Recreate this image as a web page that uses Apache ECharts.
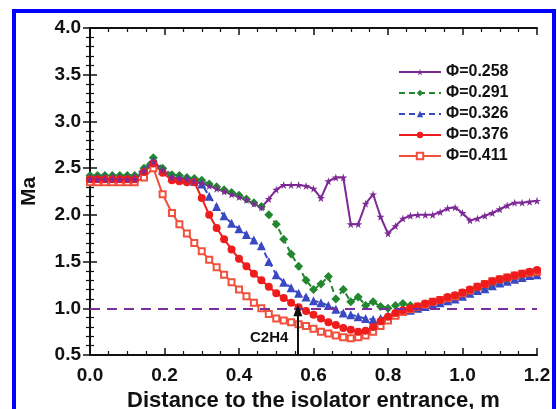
<!DOCTYPE html>
<html>
<head>
<meta charset="utf-8">
<script src="https://cdn.jsdelivr.net/npm/echarts@6/dist/echarts.min.js"></script>
<style>
html, body { margin: 0; padding: 0; background: #fff; }
#chart { width: 557px; height: 409px; }
</style>
</head>
<body>
<div id="chart"></div>
<script>
//横坐标：距隔离段入口距离 (m)
const dist = [0, 0.02, 0.04, 0.06, 0.08, 0.10, 0.12, 0.145, 0.17, 0.195,
    0.22, 0.24, 0.26, 0.28, 0.30, 0.32, 0.34, 0.36, 0.38, 0.40,
    0.42, 0.44, 0.46, 0.48, 0.50, 0.52, 0.54, 0.56, 0.58, 0.60,
    0.62, 0.64, 0.66, 0.68, 0.70, 0.72, 0.74, 0.76, 0.78, 0.80,
    0.82, 0.84, 0.86, 0.88, 0.90, 0.92, 0.94, 0.96, 0.98, 1.00,
    1.02, 1.04, 1.06, 1.08, 1.10, 1.12, 1.14, 1.16, 1.18, 1.20];

//各当量比下的马赫数
const phi258 = [2.38, 2.38, 2.38, 2.38, 2.38, 2.38, 2.38, 2.47, 2.57, 2.48,
    2.40, 2.39, 2.38, 2.36, 2.34, 2.31, 2.28, 2.25, 2.22, 2.19,
    2.16, 2.12, 2.08, 2.17, 2.27, 2.32, 2.32, 2.32, 2.31, 2.28,
    2.18, 2.36, 2.40, 2.40, 1.90, 1.90, 2.12, 2.22, 1.98, 1.80,
    1.88, 1.96, 1.99, 2.00, 2.00, 2.00, 2.03, 2.07, 2.08, 2.02,
    1.94, 1.96, 1.99, 2.02, 2.06, 2.10, 2.13, 2.13, 2.14, 2.15];
const phi291 = [2.42, 2.42, 2.42, 2.42, 2.42, 2.42, 2.42, 2.50, 2.61, 2.50,
    2.43, 2.42, 2.40, 2.39, 2.37, 2.33, 2.30, 2.27, 2.24, 2.21,
    2.17, 2.13, 2.09, 2.00, 1.90, 1.74, 1.58, 1.45, 1.30, 1.20,
    1.26, 1.34, 1.10, 1.20, 1.07, 1.12, 1.03, 1.07, 1.02, 1.00,
    1.03, 1.05, 1.03, 1.00, 1.02, 1.05, 1.07, 1.09, 1.11, 1.14,
    1.17, 1.20, 1.22, 1.25, 1.28, 1.30, 1.32, 1.34, 1.36, 1.37];
const phi326 = [2.40, 2.40, 2.40, 2.40, 2.40, 2.40, 2.40, 2.48, 2.58, 2.48,
    2.40, 2.39, 2.38, 2.36, 2.33, 2.20, 2.09, 1.99, 1.91, 1.85,
    1.79, 1.73, 1.67, 1.50, 1.36, 1.28, 1.22, 1.16, 1.12, 1.08,
    1.06, 1.03, 0.99, 0.95, 0.93, 0.91, 0.89, 0.88, 0.89, 0.92,
    0.95, 0.97, 0.98, 1.00, 1.02, 1.04, 1.06, 1.08, 1.10, 1.13,
    1.16, 1.19, 1.21, 1.24, 1.27, 1.29, 1.31, 1.33, 1.35, 1.36];
const phi376 = [2.38, 2.38, 2.38, 2.38, 2.38, 2.38, 2.38, 2.46, 2.55, 2.45,
    2.37, 2.36, 2.35, 2.35, 2.18, 2.00, 1.86, 1.74, 1.63, 1.53,
    1.45, 1.37, 1.30, 1.23, 1.16, 1.11, 1.06, 1.01, 0.97, 0.93,
    0.89, 0.85, 0.82, 0.79, 0.77, 0.75, 0.76, 0.80, 0.86, 0.91,
    0.95, 0.98, 1.00, 1.02, 1.05, 1.07, 1.09, 1.12, 1.14, 1.17,
    1.20, 1.23, 1.26, 1.29, 1.31, 1.33, 1.35, 1.37, 1.39, 1.41];
const phi411 = [2.35, 2.35, 2.35, 2.35, 2.35, 2.35, 2.35, 2.40, 2.50, 2.22,
    2.02, 1.90, 1.80, 1.70, 1.61, 1.52, 1.44, 1.36, 1.28, 1.20,
    1.13, 1.06, 1.00, 0.94, 0.89, 0.87, 0.85, 0.83, 0.81, 0.78,
    0.75, 0.73, 0.71, 0.69, 0.68, 0.69, 0.71, 0.75, 0.81, 0.87,
    0.92, 0.96, 0.99, 1.02, 1.04, 1.07, 1.09, 1.11, 1.13, 1.16,
    1.19, 1.23, 1.26, 1.29, 1.31, 1.33, 1.35, 1.37, 1.38, 1.39];

//声速线与燃料喷注位置
const sonicMa = 1.0;
const injectX = 0.558;
const injectLabel = 'C2H4';

const font = "'Liberation Sans', Arial, sans-serif";
const star = 'path://M50,0 L61,35 L98,35 L68,57 L79,91 L50,70 L21,91 L32,57 L2,35 L39,35 Z';

let chart = echarts.init(document.getElementById('chart'));

function pairs(ys) {
    return dist.map(function (x, i) { return [x, ys[i]]; });
}

function lineSeries(name, ys, color, symbol, size, dashed) {
    return {
        name: name,
        type: 'line',
        data: pairs(ys),
        symbol: symbol,
        symbolSize: size,
        showAllSymbol: true,
        lineStyle: { color: color, width: 2, type: dashed ? [6, 4] : 'solid' },
        itemStyle: { color: color, borderWidth: symbol.indexOf('empty') === 0 ? 1 : 0 }
    };
}

const axisLine = { show: true, lineStyle: { color: '#111', width: 2 } };
const tickIn = { show: true, inside: true, length: 7, lineStyle: { color: '#111', width: 1.5 } };
const minorIn = { show: true, length: 4, lineStyle: { color: '#111', width: 1.2 } };
const labelStyle = { color: '#111', fontFamily: font, fontWeight: 'bold', fontSize: 19 };

let option = {
    animation: false,
    backgroundColor: '#fff',
    grid: { left: 90, right: 20, top: 28, bottom: 54, outerBoundsMode: 'none' },
    legend: {
        orient: 'vertical',
        left: 398,
        top: 64,
        padding: 0,
        itemWidth: 42,
        itemHeight: 8,
        itemGap: 5,
        data: ['Φ=0.258', 'Φ=0.291', 'Φ=0.326', 'Φ=0.376', 'Φ=0.411'],
        textStyle: { color: '#111', fontFamily: font, fontWeight: 'bold', fontSize: 16, lineHeight: 16 }
    },
    xAxis: [{
        type: 'value', min: 0, max: 1.2, interval: 0.2,
        name: 'Distance to the isolator entrance, m',
        nameLocation: 'middle', nameGap: 31,
        nameTextStyle: { color: '#111', fontFamily: font, fontWeight: 'bold', fontSize: 22 },
        axisLine: axisLine, axisTick: tickIn,
        minorTick: Object.assign({ splitNumber: 4 }, minorIn),
        splitLine: { show: false },
        axisLabel: Object.assign({ margin: 11, formatter: function (v) { return v.toFixed(1); } }, labelStyle)
    }, {
        type: 'value', min: 0, max: 1.2, interval: 0.2, position: 'top',
        axisLine: axisLine, axisTick: tickIn,
        minorTick: Object.assign({ splitNumber: 4 }, minorIn),
        splitLine: { show: false }, axisLabel: { show: false }
    }],
    yAxis: [{
        type: 'value', min: 0.5, max: 4.0, interval: 0.5,
        name: 'Ma',
        nameLocation: 'middle', nameGap: 50,
        nameTextStyle: { color: '#111', fontFamily: font, fontWeight: 'bold', fontSize: 21 },
        axisLine: axisLine, axisTick: tickIn,
        minorTick: Object.assign({ splitNumber: 5 }, minorIn),
        splitLine: { show: false },
        axisLabel: Object.assign({ margin: 9, formatter: function (v) { return v.toFixed(1); } }, labelStyle)
    }, {
        type: 'value', min: 0.5, max: 4.0, interval: 0.5, position: 'right',
        axisLine: axisLine, axisTick: tickIn,
        minorTick: Object.assign({ splitNumber: 5 }, minorIn),
        splitLine: { show: false }, axisLabel: { show: false }
    }],
    graphic: [{
        type: 'rect',
        shape: { x: 14, y: 11, width: 540, height: 450 },
        style: { fill: 'none', stroke: '#0000ff', lineWidth: 4 },
        silent: true
    }],
    series: [
        lineSeries('Φ=0.291', phi291, '#23872f', 'diamond', 9, true),
        lineSeries('Φ=0.326', phi326, '#3a48c2', 'triangle', 9, true),
        lineSeries('Φ=0.411', phi411, '#f0503c', 'emptyRect', 6, false),
        lineSeries('Φ=0.376', phi376, '#ee1c1c', 'circle', 8, false),
        lineSeries('Φ=0.258', phi258, '#7d2a96', star, 8, false),
        {
            //声速线 + 喷注位置箭头
            name: 'marks',
            type: 'line',
            data: [],
            silent: true,
            markLine: {
                silent: true,
                symbol: 'none',
                animation: false,
                label: { show: false },
                data: [
                    [{ coord: [0, sonicMa], lineStyle: { color: '#7a2f9a', width: 2, type: [10, 7] } },
                     { coord: [1.2, sonicMa] }],
                    [{ coord: [injectX, 0.5], symbol: 'none', lineStyle: { color: '#111', width: 2, type: 'solid' } },
                     { coord: [injectX, 0.98], symbol: 'triangle', symbolSize: [9, 12] }]
                ]
            },
            markPoint: {
                silent: true,
                symbolSize: 0,
                data: [{
                    coord: [injectX - 0.012, 0.68],
                    label: {
                        show: true, position: 'left', formatter: injectLabel,
                        color: '#111', fontFamily: font, fontWeight: 'bold', fontSize: 15
                    }
                }]
            }
        }
    ]
};
chart.setOption(option);
</script>
</body>
</html>
